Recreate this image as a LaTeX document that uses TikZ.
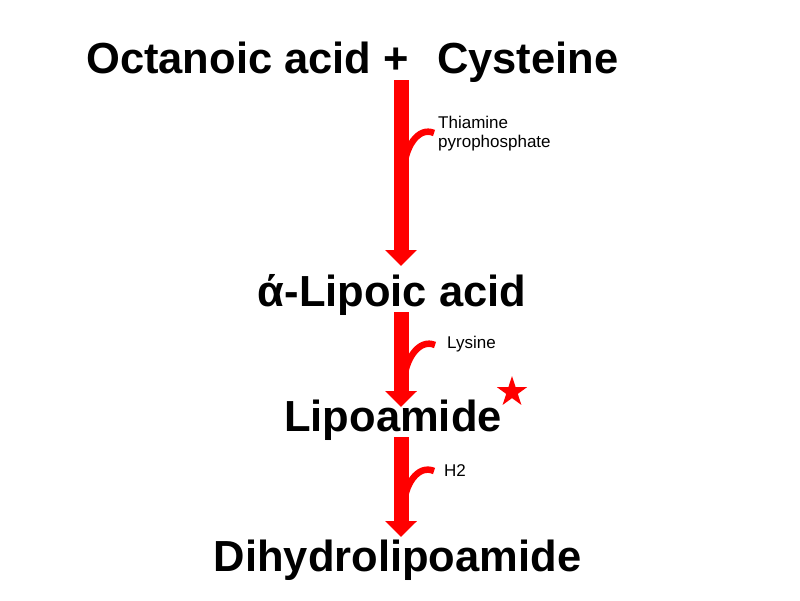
\documentclass[tikz,border=0pt]{standalone}
\usepackage{fontspec}
\setmainfont{Liberation Sans}
\usetikzlibrary{arrows.meta,shapes.geometric}
\definecolor{pptred}{RGB}{255,0,0}
\tikzset{
  big/.style={font=\fontsize{43.5}{50}\selectfont\bfseries, inner sep=0pt, text=black},
  small/.style={font=\fontsize{17}{19}\selectfont, inner sep=0pt, text=black, align=left},
  mainarrow/.style={draw=pptred, line width=15pt, -{Triangle[length=16pt, width=31pt]}},
  branch/.style={draw=pptred, line width=6.5pt},
}
\begin{document}
\begin{tikzpicture}[x=1pt, y=-1pt]
\useasboundingbox[fill=white] (0,0) rectangle (800,600);
% texts
\node[big, anchor=base west] (oct) at (86,73) {Octanoic acid +};
\node[big, anchor=base west] (cys) at (437,73) {Cysteine};
\node[big, anchor=base] (lip) at (392,306) {ά-Lipoic acid};
\node[big, anchor=base] (lam) at (393,431) {Lipoamide};
\node[big, anchor=base] (dih) at (397.5,571) {Dihydrolipoamide};
\node[small, anchor=base west] (tpp) at (438,147) {Thiamine\\pyrophosphate};
\node[small, anchor=base west] (lys) at (447,348) {Lysine};
\node[small, anchor=base west] (h2) at (444,476) {H2};
\node[star, star points=5, star point ratio=2.618, fill=pptred, minimum size=32pt, inner sep=0pt] (star) at (512,392) {};
% arrow coordinates
\coordinate (a1s) at (401,80);
\coordinate (a1e) at (401,266);
\coordinate (a2s) at (401,312);
\coordinate (a2e) at (401,407);
\coordinate (a3s) at (401,437);
\coordinate (a3e) at (401,537);
\coordinate (b1s) at (404,172);
\coordinate (b1e) at (434,133);
\coordinate (b2s) at (404,384);
\coordinate (b2e) at (435,345);
\coordinate (b3s) at (404,507);
\coordinate (b3e) at (434,471);
% arrows
\draw[mainarrow] (a1s) -- (a1e);
\draw[mainarrow] (a2s) -- (a2e);
\draw[mainarrow] (a3s) -- (a3e);
\draw[branch] (b1s) .. controls +(0,-24) and +(-16,-7) .. (b1e);
\draw[branch] (b2s) .. controls +(0,-24) and +(-16,-7) .. (b2e);
\draw[branch] (b3s) .. controls +(0,-22) and +(-16,-7) .. (b3e);
\end{tikzpicture}
\end{document}
